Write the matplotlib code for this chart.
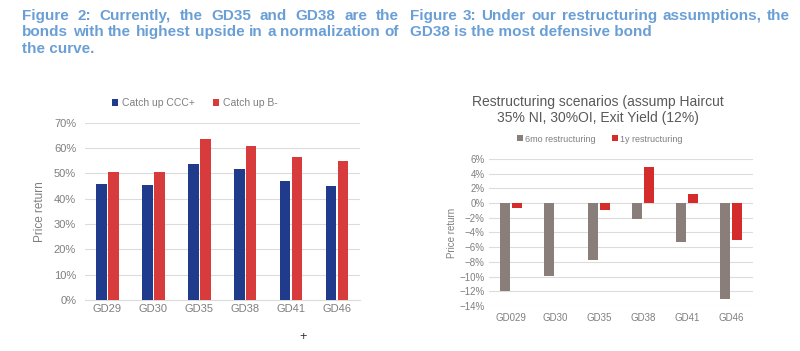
import numpy as np
import matplotlib.pyplot as plt
from matplotlib.ticker import PercentFormatter

plt.rcParams['font.family'] = ['Liberation Sans', 'DejaVu Sans']

bonds_left = ['GD29', 'GD30', 'GD35', 'GD38', 'GD41', 'GD46']
catch_ccc = [46.0, 45.5, 53.8, 51.8, 47.2, 45.2]
catch_b = [50.5, 50.5, 63.5, 60.8, 56.7, 55.0]

bonds_right = ['GD029', 'GD30', 'GD35', 'GD38', 'GD41', 'GD46']
restr_6mo = [-12.0, -9.9, -7.7, -2.1, -5.3, -13.1]
restr_1y = [-0.7, 0.0, -0.9, 4.9, 1.3, -5.0]

title_col = '#6a9fd6'
tick_col = '#7f7f7f'
grid_col = '#dcdcdc'

fig = plt.figure(figsize=(8, 3.51), dpi=100)
renderer = fig.canvas.get_renderer()


def justified(line, x0, x1, y, **kw):
    # spread the words of one line over the pixel range x0..x1
    words = line.split()
    texts = [fig.text(0, y, w, va='top', **kw) for w in words]
    widths = [t.get_window_extent(renderer).width for t in texts]
    gap = (x1 - x0 - sum(widths)) / (len(words) - 1)
    pos = x0
    for t, wd in zip(texts, widths):
        t.set_x(pos / 800)
        pos += wd + gap


tkw = dict(color=title_col, fontsize=11, fontweight='bold')
justified('Figure 2: Currently, the GD35 and GD38 are the', 22, 399, 0.975, **tkw)
justified('bonds with the highest upside in a normalization of', 22, 399, 0.928, **tkw)
fig.text(22 / 800, 0.881, 'the curve.', va='top', **tkw)
justified('Figure 3: Under our restructuring assumptions, the', 410, 790, 0.975, **tkw)
fig.text(410 / 800, 0.928, 'GD38 is the most defensive bond', va='top', **tkw)

# left chart
ax1 = fig.add_axes([84.5 / 800, 0.145, 275.5 / 800, 0.505])
x = np.arange(len(bonds_left))
w = 0.23
ax1.bar(x - 0.13, catch_ccc, w, color='#203a8c', label='Catch up CCC+', zorder=3)
ax1.bar(x + 0.13, catch_b, w, color='#d83b3b', label='Catch up B-', zorder=3)
ax1.set_ylim(0, 70)
ax1.set_xlim(-0.5, 5.5)
ax1.yaxis.set_major_formatter(PercentFormatter(decimals=0))
ax1.set_xticks(x, bonds_left)
ax1.set_ylabel('Price return', color=tick_col, fontsize=8.5, labelpad=6)
ax1.grid(axis='y', color=grid_col, lw=0.8, zorder=0)
for s in ['top', 'right', 'left']:
    ax1.spines[s].set_visible(False)
ax1.spines['bottom'].set_color(grid_col)
ax1.tick_params(length=0, colors=tick_col, labelsize=8)
ax1.tick_params(axis='x', pad=3)
ax1.tick_params(axis='y', pad=6)
ax1.legend(loc='center', bbox_to_anchor=(0.4, 1.11), ncol=2, frameon=False,
           fontsize=7.5, handlelength=0.6, handleheight=0.6, columnspacing=1.8,
           handletextpad=0.3, labelcolor=tick_col)
fig.text(303 / 800, 0.03, '+', color='#333333', fontsize=9, ha='center')

# right chart
ax2 = fig.add_axes([489 / 800, 1 - 306 / 351, 264 / 800, 147 / 351])
x2 = np.arange(len(bonds_right))
w2 = 0.23
ax2.bar(x2 - 0.135, restr_6mo, w2, color='#8a7e7b', label='6mo restructuring', zorder=3)
ax2.bar(x2 + 0.135, restr_1y, w2, color='#d42b2b', label='1y restructuring', zorder=3)
ax2.set_ylim(-14, 6)
ax2.set_yticks(np.arange(-14, 7, 2))
ax2.set_xlim(-0.5, 5.5)
ax2.yaxis.set_major_formatter(PercentFormatter(decimals=0))
ax2.set_xticks(x2, bonds_right)
ax2.set_ylabel('Price return', color=tick_col, fontsize=7, labelpad=2)
ax2.grid(axis='y', color=grid_col, lw=0.8, zorder=0)
for s in ['top', 'right', 'left', 'bottom']:
    ax2.spines[s].set_visible(False)
ax2.tick_params(length=0, colors=tick_col, labelsize=7)
ax2.tick_params(axis='x', pad=5)
ax2.tick_params(axis='y', pad=3)
fig.text(598 / 800, 1 - 110 / 351, 'Restructuring scenarios (assump Haircut\n35% NI, 30%OI, Exit Yield (12%)',
         color='#595959', fontsize=10, ha='center', va='center', linespacing=1.15)
leg = ax2.legend(loc='center', bbox_to_anchor=(600 / 800, 1 - 139 / 351),
                 bbox_transform=fig.transFigure, ncol=2, frameon=False,
                 fontsize=6.5, handlelength=0.6, handleheight=0.6, columnspacing=1.8,
                 handletextpad=0.3, labelcolor=tick_col)

fig.savefig('out.png', dpi=100, facecolor='white')
